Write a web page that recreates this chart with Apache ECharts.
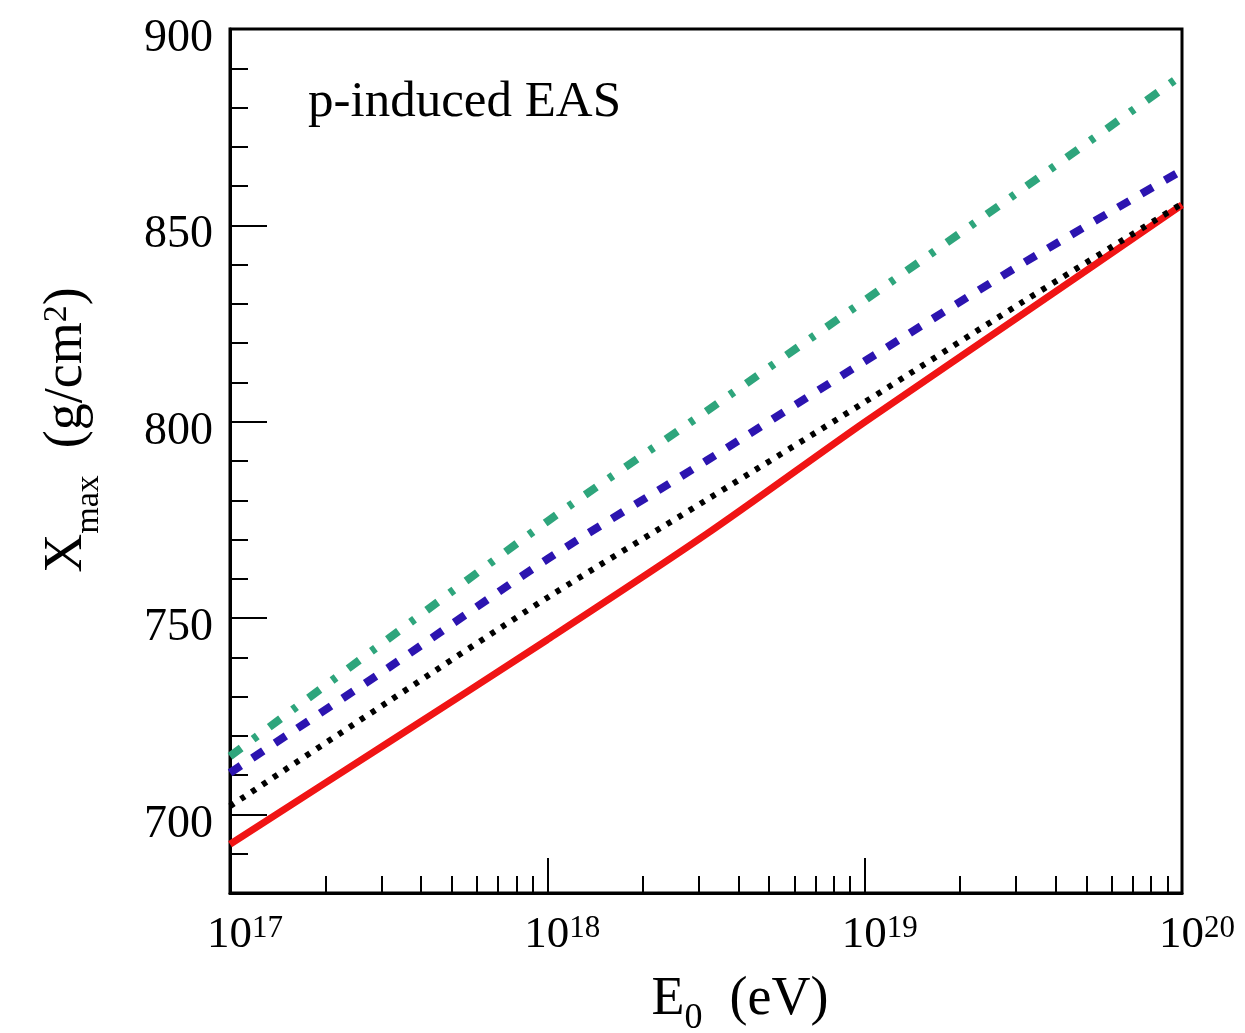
<!DOCTYPE html>
<html>
<head>
<meta charset="utf-8">
<title>Xmax vs E0, p-induced EAS</title>
<script src="https://cdn.jsdelivr.net/npm/echarts@6/dist/echarts.min.js"></script>
<style>
  html, body { margin: 0; padding: 0; background: #fff; }
  #chart { width: 1245px; height: 1033px; }
</style>
</head>
<body>
<div id="chart"></div>
<script>
// Primary energy, as decimal exponents of E0 in eV
const logE = [17, 17.5, 18, 18.5, 19, 19.5, 20];

// Depth of shower maximum Xmax (g/cm^2) for each model curve
const solidRed = [692.4, 718.4, 744.5, 771.3, 799.9, 827.5, 855.2];
const dottedBlack = [702.1, 728.8, 755.2, 780.0, 805.0, 830.6, 855.5];
const dashedBlue = [710.6, 737.4, 765.0, 790.0, 815.4, 840.4, 864.0];
const dashDotGreen = [714.8, 744.8, 774.6, 802.6, 830.9, 859.4, 888.3];

// Axis ticks
const xDecades = [1e17, 1e18, 1e19, 1e20];
const xMinor = [];
for (let d = 17; d < 20; d++) {
  for (let m = 2; m <= 9; m++) xMinor.push(m * Math.pow(10, d));
}
const yMajor = [700, 750, 800, 850, 900];
const yMinor = [690, 710, 720, 730, 740, 760, 770, 780, 790, 810, 820, 830, 840, 860, 870, 880, 890];

const toPoints = vals => logE.map((e, i) => [Math.pow(10, e), vals[i]]);

const FONT = '"Liberation Serif", "DejaVu Serif", serif';
const chart = echarts.init(document.getElementById('chart'));

const axisLineStyle = { color: '#000', width: 3 };

chart.setOption({
  backgroundColor: '#fff',
  animation: false,
  title: {
    text: 'p-induced EAS',
    left: 303,
    top: 72,
    textStyle: { fontFamily: FONT, fontSize: 51, fontWeight: 'normal', color: '#000' }
  },
  grid: {
    left: 230, right: 63, top: 29, bottom: 140,
    outerBoundsMode: 'none',
    containLabel: false,
    show: true, borderColor: '#000', borderWidth: 3, backgroundColor: 'transparent'
  },
  xAxis: [
    {
      type: 'log', logBase: 10, min: 1e17, max: 1e20,
      name: '{b|E}{sub|0}{b|  (eV)}',
      nameLocation: 'middle',
      nameGap: 80,
      nameTextStyle: {
        padding: [0, 0, 0, 68],
        rich: {
          b: { fontFamily: FONT, fontSize: 54, color: '#000', verticalAlign: 'bottom', padding: [0, 0, 10, 0] },
          sub: { fontFamily: FONT, fontSize: 36, color: '#000', verticalAlign: 'bottom' }
        }
      },
      axisLine: { show: true, lineStyle: axisLineStyle },
      splitLine: { show: false },
      axisTick: { show: true, inside: true, length: 35, lineStyle: { color: '#000', width: 2 }, customValues: xDecades },
      axisLabel: {
        show: true,
        customValues: xDecades,
        margin: 20,
        padding: [0, 0, 0, 30],
        formatter: v => '{b|10}{s|' + Math.round(Math.log10(v)) + '}',
        rich: {
          b: { fontFamily: FONT, fontSize: 45, color: '#000', verticalAlign: 'bottom' },
          s: { fontFamily: FONT, fontSize: 31, color: '#000', verticalAlign: 'top' }
        }
      }
    },
    {
      type: 'log', logBase: 10, min: 1e17, max: 1e20,
      position: 'bottom',
      axisLine: { show: false },
      splitLine: { show: false },
      axisLabel: { show: false },
      axisTick: { show: true, inside: true, length: 17, lineStyle: { color: '#000', width: 2 }, customValues: xMinor }
    }
  ],
  yAxis: [
    {
      type: 'value', min: 680, max: 900,
      name: '{b|X}{sub|max}{b|  (g/cm}{sup|2}{b|)}',
      nameLocation: 'middle',
      nameGap: 124,
      nameRotate: 90,
      nameTextStyle: {
        padding: [0, 0, 0, 62],
        rich: {
          b: { fontFamily: FONT, fontSize: 54, color: '#000', verticalAlign: 'bottom', padding: [0, 0, 12, 0] },
          sub: { fontFamily: FONT, fontSize: 34, color: '#000', verticalAlign: 'bottom' },
          sup: { fontFamily: FONT, fontSize: 34, color: '#000', verticalAlign: 'top' }
        }
      },
      axisLine: { show: true, lineStyle: axisLineStyle },
      splitLine: { show: false },
      axisTick: { show: true, inside: true, length: 37, lineStyle: { color: '#000', width: 2 }, customValues: yMajor },
      axisLabel: {
        show: true,
        customValues: yMajor,
        margin: 17,
        verticalAlign: 'top',
        lineHeight: 20,
        fontFamily: FONT, fontSize: 46, color: '#000'
      }
    },
    {
      type: 'value', min: 680, max: 900,
      position: 'left',
      axisLine: { show: false },
      splitLine: { show: false },
      axisLabel: { show: false },
      axisTick: { show: true, inside: true, length: 18, lineStyle: { color: '#000', width: 2 }, customValues: yMinor }
    }
  ],
  series: [
    {
      name: 'solid', type: 'line', xAxisIndex: 0, yAxisIndex: 0,
      data: toPoints(solidRed), smooth: 0.3, showSymbol: false, clip: true,
      lineStyle: { color: '#f01414', width: 7, type: 'solid' }, z: 3
    },
    {
      name: 'dotted', type: 'line', xAxisIndex: 0, yAxisIndex: 0,
      data: toPoints(dottedBlack), smooth: 0.3, showSymbol: false, clip: true,
      lineStyle: { color: '#000', width: 6, type: [5, 8] }, z: 4
    },
    {
      name: 'dashed', type: 'line', xAxisIndex: 0, yAxisIndex: 0,
      data: toPoints(dashedBlue), smooth: 0.3, showSymbol: false, clip: true,
      lineStyle: { color: '#2c14b0', width: 8, type: [13, 14] }, z: 3
    },
    {
      name: 'dashdot', type: 'line', xAxisIndex: 0, yAxisIndex: 0,
      data: toPoints(dashDotGreen), smooth: 0.3, showSymbol: false, clip: true,
      lineStyle: { color: '#2ea57c', width: 8, type: [14, 15, 5, 15] }, z: 3
    }
  ]
});
</script>
</body>
</html>
